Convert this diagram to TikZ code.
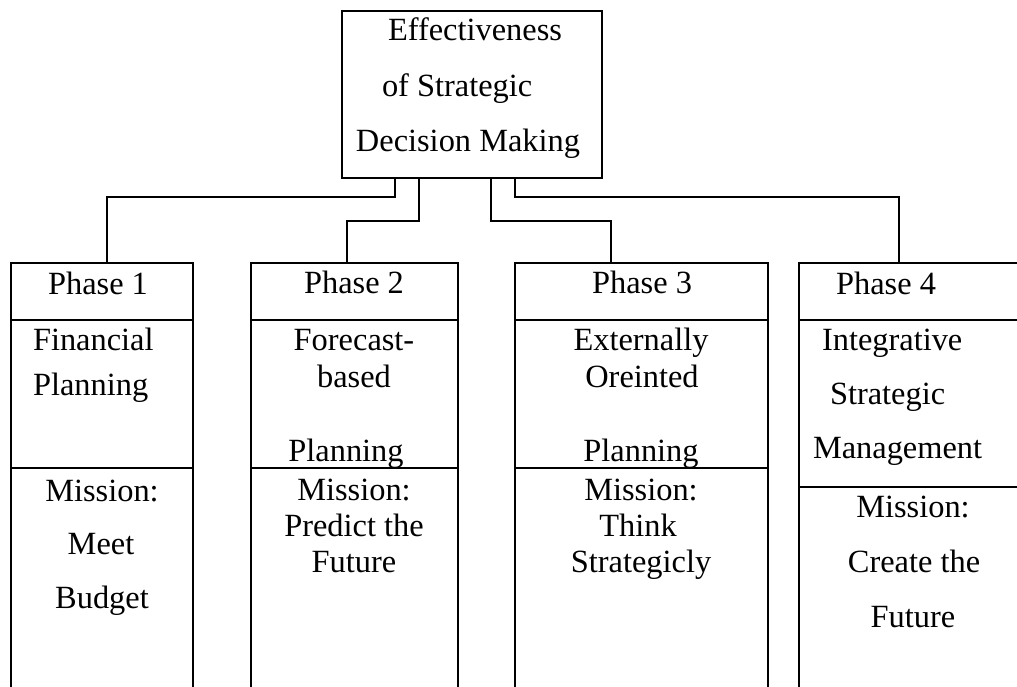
\documentclass[tikz,border=0pt]{standalone}
\usepackage{fontspec}
\setmainfont{Liberation Serif}
\begin{document}
\begin{tikzpicture}[x=1pt,y=-1pt,
  box/.style={draw,line width=1.8pt,rectangle,inner sep=0pt,outer sep=0pt},
  link/.style={line width=1.3pt},
  txt/.style={inner sep=0pt,outer sep=0pt,font=\fontsize{32.4}{36}\selectfont}]
\useasboundingbox (0,0) rectangle (1017,686);
\clip (0,0) rectangle (1017,686);

% root box
\node[box,minimum width=260,minimum height=167] (top) at (472,94.5) {};

% phase columns: header, planning cell, mission cell (running off the page)
\node[box,minimum width=182,minimum height=57] (p1) at (102,291.5) {};
\node[box,minimum width=182,minimum height=148] (m1) at (102,394) {};
\node[box,minimum width=182,minimum height=240] (b1) at (102,588) {};

\node[box,minimum width=207,minimum height=57] (p2) at (354.5,291.5) {};
\node[box,minimum width=207,minimum height=148] (m2) at (354.5,394) {};
\node[box,minimum width=207,minimum height=240] (b2) at (354.5,588) {};

\node[box,minimum width=253,minimum height=57] (p3) at (641.5,291.5) {};
\node[box,minimum width=253,minimum height=148] (m3) at (641.5,394) {};
\node[box,minimum width=253,minimum height=240] (b3) at (641.5,588) {};

\node[box,minimum width=241,minimum height=57] (p4) at (919.5,291.5) {};
\node[box,minimum width=241,minimum height=167] (m4) at (919.5,403.5) {};
\node[box,minimum width=241,minimum height=240] (b4) at (919.5,607) {};

% connectors from the root box to each phase
\draw[link] ([xshift=53]top.south west) -- ++(0,19) -| ([xshift=96]p1.north west);
\draw[link] ([xshift=77]top.south west) -- ++(0,43) -| ([xshift=96]p2.north west);
\draw[link] ([xshift=149]top.south west) -- ++(0,43) -| ([xshift=96]p3.north west);
\draw[link] ([xshift=173]top.south west) -- ++(0,19) -| ([xshift=100]p4.north west);

% root text
\node[txt,anchor=base] (r1) at (475,40.7) {Effectiveness};
\node[txt,anchor=base west] (r2) at (382,96.7) {of Strategic};
\node[txt,anchor=base] (r3) at (468,151.7) {Decision Making};

% phase 1
\node[txt,anchor=base] (a1) at (98,294) {Phase 1};
\node[txt,anchor=base west] (a2) at (33,350) {Financial};
\node[txt,anchor=base west] (a3) at (33,395) {Planning};
\node[txt,anchor=base] (a4) at (102,501) {Mission:};
\node[txt,anchor=base] (a5) at (101,554) {Meet};
\node[txt,anchor=base] (a6) at (102,608) {Budget};

% phase 2
\node[txt,anchor=base] (c1) at (354,293) {Phase 2};
\node[txt,anchor=base] (c2) at (354,350) {Forecast-};
\node[txt,anchor=base] (c3) at (354,387) {based};
\node[txt,anchor=base] (c4) at (346,461) {Planning};
\node[txt,anchor=base] (c5) at (354,500) {Mission:};
\node[txt,anchor=base] (c6) at (354,536) {Predict the};
\node[txt,anchor=base] (c7) at (354,572) {Future};

% phase 3
\node[txt,anchor=base] (d1) at (642,293) {Phase 3};
\node[txt,anchor=base] (d2) at (641,350) {Externally};
\node[txt,anchor=base] (d3) at (642,387) {Oreinted};
\node[txt,anchor=base] (d4) at (641,461) {Planning};
\node[txt,anchor=base] (d5) at (641,500) {Mission:};
\node[txt,anchor=base] (d6) at (638,536) {Think};
\node[txt,anchor=base] (d7) at (641,572) {Strategicly};

% phase 4
\node[txt,anchor=base] (f1) at (886,294) {Phase 4};
\node[txt,anchor=base west] (f2) at (822,350) {Integrative};
\node[txt,anchor=base west] (f3) at (830,404) {Strategic};
\node[txt,anchor=base west] (f4) at (813,458) {Management};
\node[txt,anchor=base] (f5) at (913,517) {Mission:};
\node[txt,anchor=base] (f6) at (914,572) {Create the};
\node[txt,anchor=base] (f7) at (913,627) {Future};
\end{tikzpicture}
\end{document}
